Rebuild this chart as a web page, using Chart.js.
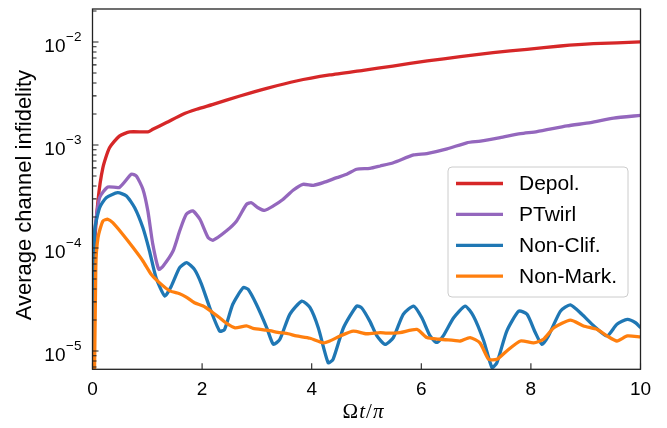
<!DOCTYPE html>
<html>
<head>
<meta charset="utf-8">
<script src="https://cdn.jsdelivr.net/npm/chart.js@4/dist/chart.umd.min.js"></script>
<style>
  html, body { margin: 0; padding: 0; background: #fff; }
  #wrap { width: 667px; height: 428px; }
</style>
</head>
<body>
<div id="wrap"><canvas id="chart" width="667" height="428"></canvas></div>
<script>
// valores (x = Ωt/π, y = infidelidade média do canal)
const seriesNames = ['Depol.', 'PTwirl', 'Non-Clif.', 'Non-Mark.'];
const seriesColors = ['#d62728', '#9467bd', '#1f77b4', '#ff7f0e'];

const depolT = [0, 0.03, 0.10, 0.19, 0.31, 0.49, 0.68, 1.01, 1.10, 1.35, 1.65, 1.90, 2.20, 2.69, 3.18, 3.72, 4.33, 4.94, 5.48, 6.11, 6.71, 7.31, 7.93, 8.54, 9.14, 10];
const depolV = [1e-7, 8e-5, 2.86e-4, 6.03e-4, 9.4e-4, 1.22e-3, 1.34e-3, 1.34e-3, 1.42e-3, 1.65e-3, 1.99e-3, 2.22e-3, 2.48e-3, 2.99e-3, 3.55e-3, 4.18e-3, 4.78e-3, 5.31e-3, 5.84e-3, 6.54e-3, 7.19e-3, 7.87e-3, 8.49e-3, 9.14e-3, 9.62e-3, 1.0e-2];

const twirlT = [0, 0.04, 0.13, 0.28, 0.49, 0.71, 0.80, 0.92, 1.01, 1.10, 1.21, 1.29, 1.47, 1.59, 1.71, 1.83, 1.96, 2.11, 2.20, 2.44, 2.63, 2.81, 2.90, 3.02, 3.14, 3.30, 3.48, 3.66, 3.84, 4.03, 4.21, 4.46, 4.64, 4.82, 5.06, 5.25, 5.49, 5.86, 6.10, 6.47, 6.83, 7.08, 7.44, 7.81, 8.11, 8.66, 9.09, 9.51, 10];
const twirlV = [1e-7, 1.36e-4, 3.08e-4, 3.91e-4, 3.87e-4, 5.2e-4, 5.0e-4, 3.72e-4, 2.29e-4, 1.09e-4, 6.2e-5, 6.7e-5, 9.35e-5, 1.46e-4, 2.12e-4, 2.29e-4, 1.90e-4, 1.26e-4, 1.19e-4, 1.46e-4, 1.83e-4, 2.65e-4, 2.75e-4, 2.46e-4, 2.32e-4, 2.56e-4, 2.97e-4, 3.63e-4, 4.15e-4, 4.06e-4, 4.31e-4, 4.82e-4, 5.2e-4, 5.81e-4, 5.92e-4, 6.25e-4, 6.73e-4, 8.0e-4, 8.24e-4, 9.15e-4, 1.05e-3, 1.09e-3, 1.18e-3, 1.29e-3, 1.35e-3, 1.53e-3, 1.65e-3, 1.82e-3, 1.94e-3];

const clifT = [0, 0.04, 0.13, 0.25, 0.46, 0.62, 0.77, 0.92, 1.04, 1.16, 1.32, 1.44, 1.59, 1.72, 1.86, 1.99, 2.14, 2.32, 2.41, 2.56, 2.75, 2.84, 2.99, 3.18, 3.30, 3.42, 3.60, 3.82, 3.97, 4.12, 4.30, 4.39, 4.58, 4.82, 4.91, 5.06, 5.19, 5.34, 5.49, 5.67, 5.86, 6.01, 6.16, 6.28, 6.40, 6.59, 6.80, 6.95, 7.14, 7.29, 7.38, 7.56, 7.78, 7.93, 8.08, 8.20, 8.32, 8.54, 8.72, 8.93, 9.15, 9.39, 9.57, 9.76, 9.91, 10];
const clifV = [1e-7, 1.46e-4, 2.46e-4, 3.08e-4, 3.44e-4, 3.2e-4, 2.46e-4, 1.57e-4, 9.35e-5, 5.15e-5, 3.42e-5, 4.28e-5, 6.44e-5, 7.2e-5, 6.2e-5, 4.44e-5, 2.63e-5, 1.56e-5, 1.62e-5, 2.84e-5, 4.12e-5, 3.97e-5, 2.84e-5, 1.68e-5, 1.16e-5, 1.30e-5, 2.27e-5, 3.05e-5, 2.63e-5, 1.68e-5, 7.7e-6, 8.3e-6, 1.68e-5, 2.73e-5, 2.63e-5, 1.95e-5, 1.40e-5, 1.16e-5, 1.35e-5, 2.27e-5, 2.73e-5, 2.10e-5, 1.40e-5, 1.21e-5, 1.40e-5, 2.10e-5, 2.73e-5, 2.19e-5, 1.25e-5, 6.9e-6, 7.7e-6, 1.56e-5, 2.44e-5, 2.27e-5, 1.51e-5, 1.16e-5, 1.40e-5, 2.44e-5, 2.80e-5, 2.27e-5, 1.75e-5, 1.40e-5, 1.82e-5, 2.03e-5, 1.88e-5, 1.68e-5];

const markT = [0, 0.06, 0.10, 0.19, 0.28, 0.37, 0.55, 0.74, 0.92, 1.07, 1.22, 1.41, 1.59, 1.71, 1.86, 2.02, 2.14, 2.32, 2.47, 2.60, 2.81, 2.93, 3.18, 3.42, 3.57, 3.72, 3.97, 4.21, 4.33, 4.52, 4.76, 5.00, 5.25, 5.37, 5.61, 5.92, 6.10, 6.34, 6.59, 6.71, 6.89, 7.07, 7.23, 7.38, 7.56, 7.81, 8.05, 8.23, 8.42, 8.72, 8.96, 9.21, 9.39, 9.57, 9.76, 10];
const markV = [1e-7, 6.44e-5, 1.26e-4, 1.83e-4, 1.90e-4, 1.76e-4, 1.36e-4, 1.01e-4, 7.48e-5, 5.56e-5, 4.61e-5, 3.83e-5, 3.6e-5, 3.34e-5, 2.94e-5, 2.73e-5, 2.48e-5, 2.10e-5, 1.82e-5, 1.68e-5, 1.75e-5, 1.66e-5, 1.59e-5, 1.51e-5, 1.47e-5, 1.40e-5, 1.33e-5, 1.20e-5, 1.25e-5, 1.40e-5, 1.56e-5, 1.47e-5, 1.51e-5, 1.49e-5, 1.51e-5, 1.62e-5, 1.35e-5, 1.30e-5, 1.27e-5, 1.25e-5, 1.35e-5, 1.20e-5, 8.3e-6, 8.3e-6, 1.0e-5, 1.25e-5, 1.20e-5, 1.30e-5, 1.68e-5, 1.99e-5, 1.75e-5, 1.62e-5, 1.40e-5, 1.25e-5, 1.40e-5, 1.37e-5];

const xTicks = [0, 2, 4, 6, 8, 10];
const yDecades = [-5, -4, -3, -2];

const SANS = '"Liberation Sans", Arial, sans-serif';
const SERIF = '"Liberation Serif", "Times New Roman", serif';

function pts(t, v) { return t.map((x, i) => ({ x, y: v[i] })); }

// moldura, ticks para dentro, rótulos 10^n, títulos e legenda
const eixos = {
  id: 'eixos',
  afterDraw(chart) {
    const { ctx, chartArea: a, scales: { x, y } } = chart;
    ctx.save();
    ctx.strokeStyle = '#222';
    ctx.lineWidth = 1.3;
    ctx.strokeRect(a.left, a.top, a.right - a.left, a.bottom - a.top);

    ctx.lineWidth = 1.1;
    ctx.beginPath();
    xTicks.forEach(v => {
      const px = x.getPixelForValue(v);
      ctx.moveTo(px, a.bottom); ctx.lineTo(px, a.bottom - 6);
    });
    for (let e = -6; e <= -1; e++) {
      for (let m = 1; m < 10; m++) {
        const v = m * Math.pow(10, e);
        if (v < y.min || v > y.max) continue;
        const py = y.getPixelForValue(v);
        ctx.moveTo(a.left, py); ctx.lineTo(a.left + (m === 1 ? 6 : 4), py);
      }
    }
    ctx.stroke();

    // rótulos do eixo y
    ctx.fillStyle = '#000';
    ctx.textBaseline = 'alphabetic';
    yDecades.forEach(e => {
      const py = y.getPixelForValue(Math.pow(10, e));
      ctx.font = '19px ' + SANS;
      ctx.textAlign = 'right';
      ctx.fillText('10', 65.5, py + 10.3);
      ctx.font = '13.5px ' + SANS;
      ctx.textAlign = 'left';
      ctx.fillText('\u2212' + Math.abs(e), 66, py - 0.7);
    });

    // título do eixo y
    ctx.save();
    ctx.translate(31, (a.top + a.bottom) / 2 + 6);
    ctx.rotate(-Math.PI / 2);
    ctx.font = '22px ' + SANS;
    ctx.textAlign = 'center';
    ctx.fillText('Average channel infidelity', 0, 0);
    ctx.restore();

    // título do eixo x: Ωt/π
    const parts = [['\u03A9', ''], ['t', 'italic '], ['/', ''], ['\u03C0', 'italic ']];
    let w = 0;
    parts.forEach(p => { ctx.font = p[1] + '21px ' + SERIF; w += ctx.measureText(p[0]).width + 1; });
    let cx = (a.left + a.right) / 2 - 3 - w / 2;
    ctx.textAlign = 'left';
    parts.forEach(p => {
      ctx.font = p[1] + '21px ' + SERIF;
      ctx.fillText(p[0], cx, 418);
      cx += ctx.measureText(p[0]).width + 1;
    });

    // legenda
    const lx = 448, ly = 167, lw = 180, lh = 130;
    ctx.beginPath();
    ctx.roundRect(lx, ly, lw, lh, 4);
    ctx.fillStyle = 'rgba(255,255,255,0.8)';
    ctx.fill();
    ctx.strokeStyle = '#cccccc';
    ctx.lineWidth = 1;
    ctx.stroke();
    ctx.font = '21px ' + SANS;
    ctx.textBaseline = 'middle';
    chart.data.datasets.forEach((ds, i) => {
      const yy = ly + 16.5 + i * 30.9;
      ctx.strokeStyle = ds.borderColor;
      ctx.lineWidth = 3.3;
      ctx.beginPath();
      ctx.moveTo(lx + 8, yy); ctx.lineTo(lx + 55, yy);
      ctx.stroke();
      ctx.fillStyle = '#000';
      ctx.fillText(ds.label, lx + 71, yy + 1);
    });
    ctx.restore();
  }
};

const seriesT = [depolT, twirlT, clifT, markT];
const seriesV = [depolV, twirlV, clifV, markV];

new Chart(document.getElementById('chart'), {
  type: 'line',
  data: {
    datasets: seriesNames.map((nome, i) => ({
      label: nome,
      data: pts(seriesT[i], seriesV[i]),
      borderColor: seriesColors[i],
      backgroundColor: seriesColors[i],
      borderWidth: 3.3,
      pointRadius: 0,
      tension: 0.2,
      borderJoinStyle: 'round',
      fill: false,
      order: 3 - i
    }))
  },
  options: {
    responsive: false,
    devicePixelRatio: 1,
    animation: false,
    layout: { padding: { top: 9, right: 26.5, left: 0, bottom: 0 } },
    plugins: { legend: { display: false }, tooltip: { enabled: false } },
    scales: {
      x: {
        type: 'linear',
        min: 0, max: 10,
        afterFit: s => { s.height = 58.7; },
        afterBuildTicks: s => { s.ticks = xTicks.map(v => ({ value: v })); },
        grid: { display: false, drawTicks: false },
        border: { display: false },
        ticks: { color: '#000', font: { size: 19, family: SANS }, padding: 9, maxRotation: 0 }
      },
      y: {
        type: 'logarithmic',
        min: 6.64e-6, max: 0.0209,
        afterFit: s => { s.width = 92.5; },
        grid: { display: false, drawTicks: false },
        border: { display: false },
        ticks: { display: false }
      }
    }
  },
  plugins: [eixos]
});
</script>
</body>
</html>
